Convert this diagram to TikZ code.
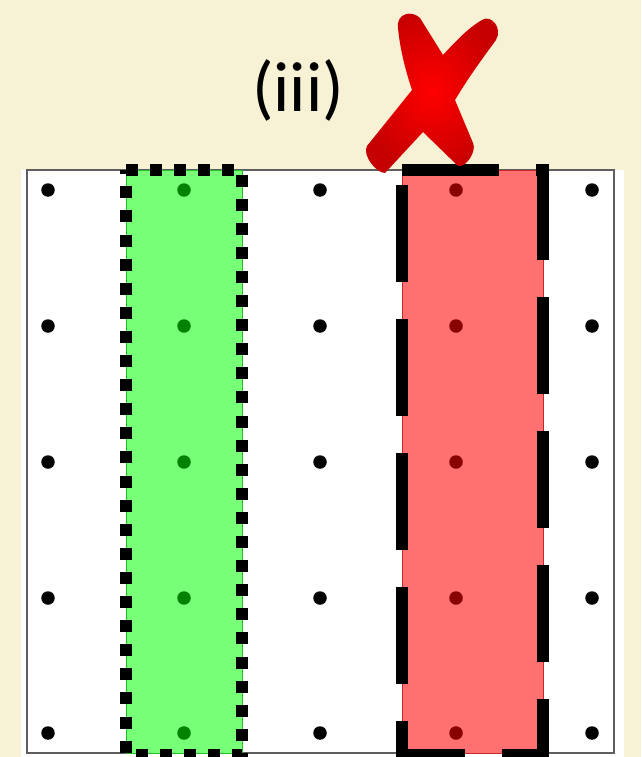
\documentclass[tikz,border=0pt]{standalone}
\usepackage{fontspec}
\setsansfont{Carlito}
\definecolor{paperCream}{RGB}{247, 241, 213}
\definecolor{frameGray}{RGB}{95, 95, 95}
\definecolor{keepGreen}{RGB}{119, 255, 119}
\definecolor{keepEdge}{RGB}{40, 190, 40}
\definecolor{dropRed}{RGB}{255, 112, 112}
\definecolor{dropEdge}{RGB}{200, 40, 40}
\definecolor{dotGreen}{RGB}{0, 130, 0}
\definecolor{dotRed}{RGB}{136, 0, 0}
\definecolor{crossRed}{RGB}{255, 0, 0}
\definecolor{crossDark}{RGB}{198, 0, 0}

\begin{document}
\begin{tikzpicture}[
    x=1pt, y=-1pt,
    gridpt/.style={
        circle,
        inner sep=0pt,
        minimum size=13.5pt
    },
    strip/.style={
        line width=1pt
    },
    dottedborder/.style={
        line width=12pt,
        dash pattern=on 12pt off 12.1pt
    },
    dashedborder/.style={
        line width=12pt,
        dash pattern=on 97pt off 37pt
    },
    tagtext/.style={
        font=\sffamily\fontsize{71}{84}\selectfont,
        inner sep=0pt
    }
]
\useasboundingbox (0,0) rectangle (641,757);
\fill[paperCream] (0,0) rectangle (641,757);

% Board
\fill[white] (21,170) rectangle (624,757);
\draw[frameGray, line width=1.5pt] (27,170) rectangle (614,753);

% Highlighted columns
\filldraw[strip, fill=keepGreen, draw=keepEdge] (126,170) rectangle (242,753);
\filldraw[strip, fill=dropRed, draw=dropEdge] (402,170) rectangle (543,753);

% Grid points
\foreach \x/\c [count=\i] in {48/black, 184/dotGreen, 320/black, 456/dotRed, 592/black}
  \foreach \y [count=\j] in {190, 326, 462, 598, 733}
    \node[gridpt, fill=\c] (p\i\j) at (\x,\y) {};

% Borders
\draw[dottedborder] (126,170) -- (242,170) -- (242,755) -- (126,755) -- cycle;
\draw[dashedborder] (402,170) -- (543,170) -- (543,755) -- (402,755) -- cycle;

% Caption
\node[tagtext, anchor=base] (tag) at (298,112) {(iii)};

% Cross mark
\shade[inner color=crossRed, outer color=crossDark]
    (412,90) -- (367,146)
    .. controls (362,155) and (376,173) .. (385,173)
    -- (423,132) -- (458,166)
    .. controls (466,168) and (477,151) .. (473,143)
    -- (455,100)
    .. controls (470,75) and (485,55) .. (496,40)
    .. controls (503,28) and (491,14) .. (482,20)
    .. controls (468,28) and (455,42) .. (443,55)
    -- (420,18)
    .. controls (412,10) and (396,13) .. (398,28)
    .. controls (400,50) and (406,72) .. (412,90)
    -- cycle;

\end{tikzpicture}
\end{document}
